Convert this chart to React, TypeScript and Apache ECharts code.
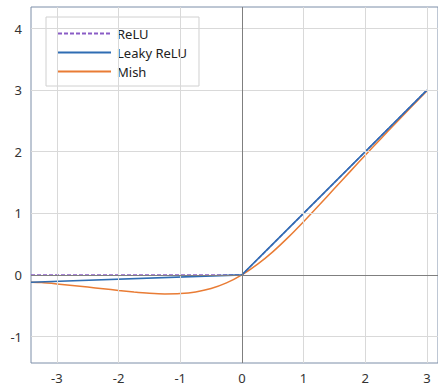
import React, { useEffect, useRef } from "react";
import * as echarts from "echarts";

const xTicks = [-3, -2, -1, 0, 1, 2, 3];
const yTicks = [-1, 0, 1, 2, 3, 4];
const seriesNames = ["ReLU", "Leaky ReLU", "Mish"];

const reluX = [-3.42, 0, 3];
const reluY = [0, 0, 3];
const leakyX = [-3.42, 0, 3];
const leakyY = [-0.12, 0, 3];
const mishX = [-3.42, -3.25, -3, -2.75, -2.5, -2.25, -2, -1.75, -1.5, -1.25, -1, -0.75, -0.5, -0.25, 0, 0.25, 0.5, 0.75, 1, 1.25, 1.5, 1.75, 2, 2.25, 2.5, 2.75, 3];
const mishY = [-0.12, -0.125, -0.146, -0.17, -0.197, -0.224, -0.252, -0.278, -0.298, -0.308, -0.303, -0.276, -0.221, -0.13, 0, 0.17, 0.375, 0.61, 0.865, 1.13, 1.403, 1.673, 1.944, 2.208, 2.471, 2.73, 2.987];

const zip = (xs: number[], ys: number[]) => xs.map((x, i) => [x, ys[i]]);

export default function App() {
  const ref = useRef<HTMLDivElement>(null);
  useEffect(() => {
    const chart = echarts.init(ref.current!, null, { renderer: "svg" });
    const font = "'Noto Sans', 'Open Sans', sans-serif";
    const gridLineStyle = { color: "#d9d9d9", width: 1, type: "solid" as const };
    const zeroLineStyle = { color: "#7f7f7f", width: 1, type: "solid" as const };
    chart.setOption({
      animation: false,
      backgroundColor: "#ffffff",
      textStyle: { fontFamily: font },
      grid: {
        left: 31,
        right: -1,
        top: 7,
        bottom: 22,
        show: true,
        borderColor: "#7d8ea8",
        borderWidth: 1,
        backgroundColor: "transparent",
      },
      legend: {
        data: seriesNames,
        orient: "vertical",
        left: 46,
        top: 17,
        padding: [10, 12, 8, 11],
        itemGap: 6,
        itemWidth: 53,
        itemHeight: 14,
        backgroundColor: "#ffffff",
        borderColor: "#d0d0d0",
        borderWidth: 1,
        itemStyle: { opacity: 0 },
        textStyle: { fontFamily: font, fontSize: 13, color: "#222", padding: [0, 0, 0, 1] },
      },
      xAxis: {
        type: "value",
        min: -3.42,
        max: 3.18,
        axisLine: { show: false },
        axisTick: { show: false },
        splitLine: { show: false },
        axisLabel: {
          customValues: xTicks,
          color: "#333",
          fontSize: 13,
          fontFamily: font,
          margin: 8,
        },
      },
      yAxis: {
        type: "value",
        min: -1.43,
        max: 4.35,
        axisLine: { show: false },
        axisTick: { show: false },
        splitLine: { show: false },
        axisLabel: {
          customValues: yTicks,
          color: "#333",
          fontSize: 13,
          fontFamily: font,
          margin: 9,
        },
      },
      series: [
        {
          name: "_grid",
          type: "line",
          data: [],
          silent: true,
          z: 1,
          markLine: {
            silent: true,
            symbol: "none",
            label: { show: false },
            animation: false,
            data: [
              ...xTicks.filter((v) => v !== 0).map((v) => ({ xAxis: v, lineStyle: gridLineStyle })),
              ...yTicks.filter((v) => v !== 0).map((v) => ({ yAxis: v, lineStyle: gridLineStyle })),
              { xAxis: 0, lineStyle: zeroLineStyle },
              { yAxis: 0, lineStyle: zeroLineStyle },
            ],
          },
        },
        {
          name: "ReLU",
          type: "line",
          data: zip(reluX, reluY),
          symbol: "none",
          z: 3,
          color: "#8a5cc6",
          lineStyle: { color: "#8a5cc6", width: 1.5, type: [4, 2] },
        },
        {
          name: "Leaky ReLU",
          type: "line",
          data: zip(leakyX, leakyY),
          symbol: "none",
          z: 4,
          color: "#2f6db3",
          lineStyle: { color: "#2f6db3", width: 1.6 },
        },
        {
          name: "Mish",
          type: "line",
          data: zip(mishX, mishY),
          symbol: "none",
          smooth: 0.2,
          z: 2,
          color: "#e97c35",
          lineStyle: { color: "#e97c35", width: 1.5 },
        },
      ],
    });
    return () => chart.dispose();
  }, []);
  return <div ref={ref} style={{ position: "fixed", left: 0, top: 0, width: 438, height: 385 }} />;
}
